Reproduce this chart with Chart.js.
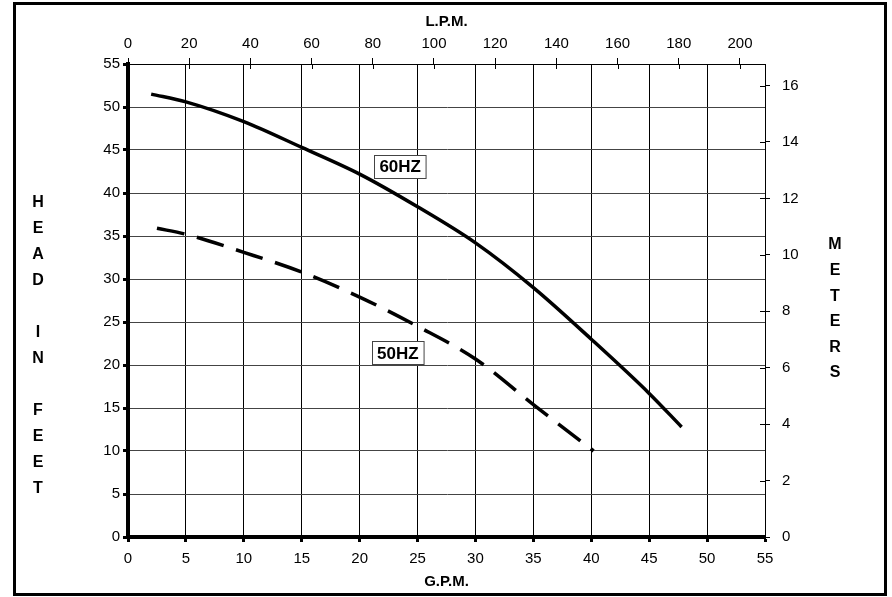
<!DOCTYPE html>
<html>
<head>
<meta charset="utf-8">
<title>Pump curve</title>
<script src="https://cdn.jsdelivr.net/npm/chart.js@4.4.1/dist/chart.umd.min.js"></script>
<style>
  html, body { margin: 0; padding: 0; background: #fff; }
  #wrap { width: 892px; height: 597px; position: relative; }
</style>
</head>
<body>
<div id="wrap"><canvas id="pumpChart"></canvas></div>
<script>
// flow (G.P.M.) and head (feet)
const gpm60 = [2, 5, 10, 15, 20, 25, 30, 35, 40, 45, 47.8];
const head60 = [51.5, 50.6, 48.3, 45.3, 42.2, 38.4, 34.2, 29.0, 23.0, 16.7, 12.8];
const gpm50 = [2.5, 5, 10, 15, 20, 25, 30, 35, 40.2];
const head50 = [35.9, 35.2, 33.1, 30.8, 27.9, 24.5, 20.7, 15.4, 10.0];

const curveNames = ['60HZ', '50HZ'];
const nameAt = [[23.5, 43.1], [23.3, 21.4]]; // gpm, feet

const leftTitle = ['H', 'E', 'A', 'D', '', 'I', 'N', '', 'F', 'E', 'E', 'T'];
const rightTitle = ['M', 'E', 'T', 'E', 'R', 'S'];

const gpmMax = 55;
const feetMax = 55;
const LPM_PER_GPM = 3.785;
const M_PER_FT = 0.3048;

const FONT = '"Liberation Sans", Arial, sans-serif';

const extras = {
  id: 'extras',
  afterDatasetsDraw(chart) {
    const ctx = chart.ctx;
    const sx = chart.scales.x, sy = chart.scales.y;
    ctx.save();
    ctx.font = 'bold 17px ' + FONT;
    ctx.textAlign = 'center';
    ctx.textBaseline = 'middle';
    curveNames.forEach((name, i) => {
      const cx = sx.getPixelForValue(nameAt[i][0]);
      const cy = sy.getPixelForValue(nameAt[i][1]);
      const w = ctx.measureText(name).width + 10;
      const h = 23;
      const bx = Math.round(cx - w / 2) + 0.5, by = Math.round(cy - h / 2) + 0.5;
      ctx.fillStyle = '#fff';
      ctx.fillRect(bx, by, w, h);
      ctx.strokeStyle = '#444';
      ctx.lineWidth = 1;
      ctx.strokeRect(bx, by, w, h);
      ctx.fillStyle = '#000';
      ctx.fillText(name, cx, cy + 1);
    });
    ctx.restore();
  },
  afterDraw(chart) {
    const ctx = chart.ctx;
    const x2 = chart.scales.x2, y2 = chart.scales.y2;
    ctx.save();
    // inner half of the top and right tick marks
    ctx.strokeStyle = '#000';
    ctx.lineWidth = 1;
    x2.ticks.forEach(t => {
      const px = Math.round(x2.getPixelForValue(t.value)) + 0.5;
      ctx.beginPath();
      ctx.moveTo(px, x2.bottom);
      ctx.lineTo(px, x2.bottom + 5);
      ctx.stroke();
    });
    y2.ticks.forEach(t => {
      const py = Math.round(y2.getPixelForValue(t.value)) + 0.5;
      ctx.beginPath();
      ctx.moveTo(y2.left - 5, py);
      ctx.lineTo(y2.left, py);
      ctx.stroke();
    });

    // stacked letters for the side titles
    ctx.fillStyle = '#000';
    ctx.font = 'bold 16px ' + FONT;
    ctx.textAlign = 'center';
    ctx.textBaseline = 'middle';
    leftTitle.forEach((ch, i) => ctx.fillText(ch, 38, 203 + i * 26));
    rightTitle.forEach((ch, i) => ctx.fillText(ch, 835, 245 + i * 25.6));

    // outer frame
    ctx.lineWidth = 3;
    ctx.strokeStyle = '#000';
    ctx.strokeRect(14.5, 3.5, 871, 591);
    ctx.restore();
  }
};

const tickFont = { family: FONT, size: 15 };
const titleFont = { family: FONT, size: 15, weight: 'bold' };

new Chart(document.getElementById('pumpChart'), {
  type: 'line',
  data: {
    datasets: [{
      label: '60HZ',
      data: gpm60.map((g, i) => ({ x: g, y: head60[i] })),
      borderColor: '#000',
      borderWidth: 3.5,
      pointRadius: 0,
      cubicInterpolationMode: 'monotone',
      xAxisID: 'x',
      yAxisID: 'y'
    }, {
      label: '50HZ',
      data: gpm50.map((g, i) => ({ x: g, y: head50[i] })),
      borderColor: '#000',
      borderWidth: 3.5,
      borderDash: [28, 13],
      pointRadius: 0,
      cubicInterpolationMode: 'monotone',
      xAxisID: 'x',
      yAxisID: 'y'
    }]
  },
  options: {
    responsive: true,
    maintainAspectRatio: false,
    animation: false,
    layout: { padding: 0 },
    plugins: {
      legend: { display: false },
      tooltip: { enabled: false }
    },
    scales: {
      x: {
        type: 'linear',
        position: 'bottom',
        min: 0,
        max: gpmMax,
        ticks: { stepSize: 5, font: tickFont, color: '#000', padding: 8, maxRotation: 0 },
        grid: { color: '#000', lineWidth: 1, tickLength: 5, tickWidth: 3, tickColor: '#000' },
        border: { color: '#000', width: 4 },
        title: { display: true, text: 'G.P.M.', font: titleFont, color: '#000', padding: { top: 0, bottom: 6 } },
        afterFit(s) { s.height = 60; }
      },
      x2: {
        type: 'linear',
        position: 'top',
        min: 0,
        max: gpmMax * LPM_PER_GPM,
        ticks: { stepSize: 20, includeBounds: false, font: tickFont, color: '#000', padding: 5, maxRotation: 0 },
        grid: { drawOnChartArea: false, tickLength: 6, tickWidth: 1, tickColor: '#000' },
        border: { color: '#000', width: 1 },
        title: { display: true, text: 'L.P.M.', font: titleFont, color: '#000', padding: { top: 13, bottom: 0 } },
        afterFit(s) { s.height = 64; }
      },
      y: {
        type: 'linear',
        position: 'left',
        min: 0,
        max: feetMax,
        ticks: { stepSize: 5, font: tickFont, color: '#000', padding: 3 },
        grid: { color: '#444', lineWidth: 1, tickLength: 5, tickWidth: 3, tickColor: '#000' },
        border: { color: '#000', width: 4 },
        afterFit(s) { s.width = 128; }
      },
      y2: {
        type: 'linear',
        position: 'right',
        min: 0,
        max: feetMax * M_PER_FT,
        ticks: { stepSize: 2, includeBounds: false, font: tickFont, color: '#000', padding: 12 },
        grid: { drawOnChartArea: false, tickLength: 5, tickWidth: 1, tickColor: '#000' },
        border: { color: '#000', width: 1 },
        afterFit(s) { s.width = 127; }
      }
    }
  },
  plugins: [extras]
});
</script>
</body>
</html>
